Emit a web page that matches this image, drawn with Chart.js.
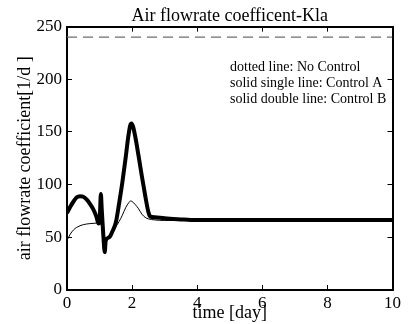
<!DOCTYPE html>
<html>
<head>
<meta charset="utf-8">
<script src="https://cdn.jsdelivr.net/npm/chart.js@4/dist/chart.umd.min.js"></script>
<style>
  body { margin: 0; background: #fff; }
  #caixa { width: 409px; height: 324px; }
</style>
</head>
<body>
<div id="caixa"><canvas id="myCanvas"></canvas></div>
<script>
// dados
var tempoB = [0, 0.1, 0.2, 0.3, 0.4, 0.5, 0.6, 0.7, 0.8, 0.9, 0.97, 1.01, 1.04, 1.07, 1.11, 1.16, 1.19, 1.3, 1.4, 1.5, 1.6, 1.7, 1.8, 1.88, 1.94, 1.98, 2.03, 2.1, 2.2, 2.3, 2.4, 2.5, 2.55, 2.7, 3.0, 3.5, 3.8, 5, 7, 10];
var controleB = [73, 79, 84, 88, 89, 88.5, 86, 82, 77, 70, 63, 70, 91, 75, 55, 36, 47, 50, 56, 64, 82, 102, 125, 145, 156, 158, 155, 145, 127, 108, 90, 74, 70, 69, 68, 67, 66.5, 66.5, 66.5, 66.5];

var tempoA = [0, 0.1, 0.2, 0.3, 0.5, 0.7, 0.9, 1.0, 1.05, 1.1, 1.15, 1.2, 1.3, 1.4, 1.5, 1.6, 1.7, 1.8, 1.9, 1.95, 2.0, 2.1, 2.2, 2.3, 2.4, 2.5, 2.7, 3.0, 5, 10];
var controleA = [47, 53, 57, 59.5, 62, 63, 63.5, 64, 62, 55, 47, 46, 52, 56, 60, 65, 71, 78, 83, 84.5, 84, 81, 77, 72, 69, 67.5, 66.5, 66, 66, 66];

var tempoSemControle = [0, 10];
var semControle = [240, 240];

var ticksX = [0, 2, 4, 6, 8, 10];
var ticksY = [0, 50, 100, 150, 200, 250];

var textoLegenda = ['dotted line: No Control', 'solid single line: Control A', 'solid double line: Control B'];

var fonte = 'Liberation Serif, Times New Roman, serif';
Chart.defaults.font.family = fonte;
Chart.defaults.color = '#000';

function pares(xs, ys) {
  return xs.map((x, i) => ({ x: x, y: ys[i] }));
}

// texto da legenda desenhado dentro do grafico
var legendaTexto = {
  id: 'legendaTexto',
  afterDraw(chart) {
    var ctx = chart.ctx;
    var area = chart.chartArea;
    ctx.save();
    ctx.font = '14px ' + fonte;
    ctx.fillStyle = '#000';
    ctx.textBaseline = 'middle';
    textoLegenda.forEach((t, i) => {
      ctx.fillText(t, area.left + 163, 67 + i * 16);
    });
    ctx.restore();
  }
};

function eixoX(posicao, mostrar) {
  return {
    type: 'linear',
    position: posicao,
    min: ticksX[0],
    max: ticksX[ticksX.length - 1],
    afterBuildTicks: (s) => { s.ticks = ticksX.map(v => ({ value: v })); },
    ticks: { display: mostrar, font: { size: 17 }, padding: 8, maxRotation: 0 },
    grid: { drawOnChartArea: false, tickLength: -5, color: '#000', lineWidth: 1 },
    border: { color: '#000', width: 2 },
    title: { display: mostrar, text: 'time [day]', font: { size: 18 }, padding: 0 },
    afterFit: (s) => { s.height = mostrar ? 34 : 0; }
  };
}

function eixoY(posicao, mostrar) {
  return {
    type: 'linear',
    position: posicao,
    min: ticksY[0],
    max: ticksY[ticksY.length - 1],
    afterBuildTicks: (s) => { s.ticks = ticksY.map(v => ({ value: v })); },
    ticks: { display: mostrar, font: { size: 17 }, padding: 10 },
    grid: { drawOnChartArea: false, tickLength: -5, color: '#000', lineWidth: 1 },
    border: { color: '#000', width: 2 },
    title: { display: mostrar, text: 'air flowrate coefficient[1/d ]', font: { size: 18 }, padding: { top: 14 } },
    afterFit: (s) => { s.width = mostrar ? 67 : 0; }
  };
}

var dados = {
  datasets: [
    {
      label: 'No Control',
      data: pares(tempoSemControle, semControle),
      borderColor: '#6e6e6e',
      borderWidth: 1.3,
      borderDash: [10, 6],
      pointRadius: 0
    },
    {
      label: 'Control A',
      data: pares(tempoA, controleA),
      borderColor: '#000',
      borderWidth: 1,
      pointRadius: 0,
      cubicInterpolationMode: 'monotone'
    },
    {
      label: 'Control B',
      data: pares(tempoB, controleB),
      borderColor: '#000',
      borderWidth: 4,
      pointRadius: 0,
      cubicInterpolationMode: 'monotone'
    }
  ]
};

var config = {
  type: 'line',
  data: dados,
  options: {
    responsive: true,
    maintainAspectRatio: false,
    animation: false,
    layout: { padding: { left: 0, right: 8, top: 0, bottom: 0 } },
    scales: {
      x: eixoX('bottom', true),
      x2: eixoX('top', false),
      y: eixoY('left', true),
      y2: eixoY('right', false)
    },
    plugins: {
      legend: { display: false },
      tooltip: { enabled: false },
      title: {
        display: true,
        fullSize: false,
        text: 'Air flowrate coefficent-Kla',
        color: '#000',
        font: { size: 18, weight: 'normal' },
        padding: { top: 5, bottom: 0 }
      }
    }
  },
  plugins: [legendaTexto]
};

var ctx = document.getElementById('myCanvas').getContext('2d');
var myChart = new Chart(ctx, config);
</script>
</body>
</html>
